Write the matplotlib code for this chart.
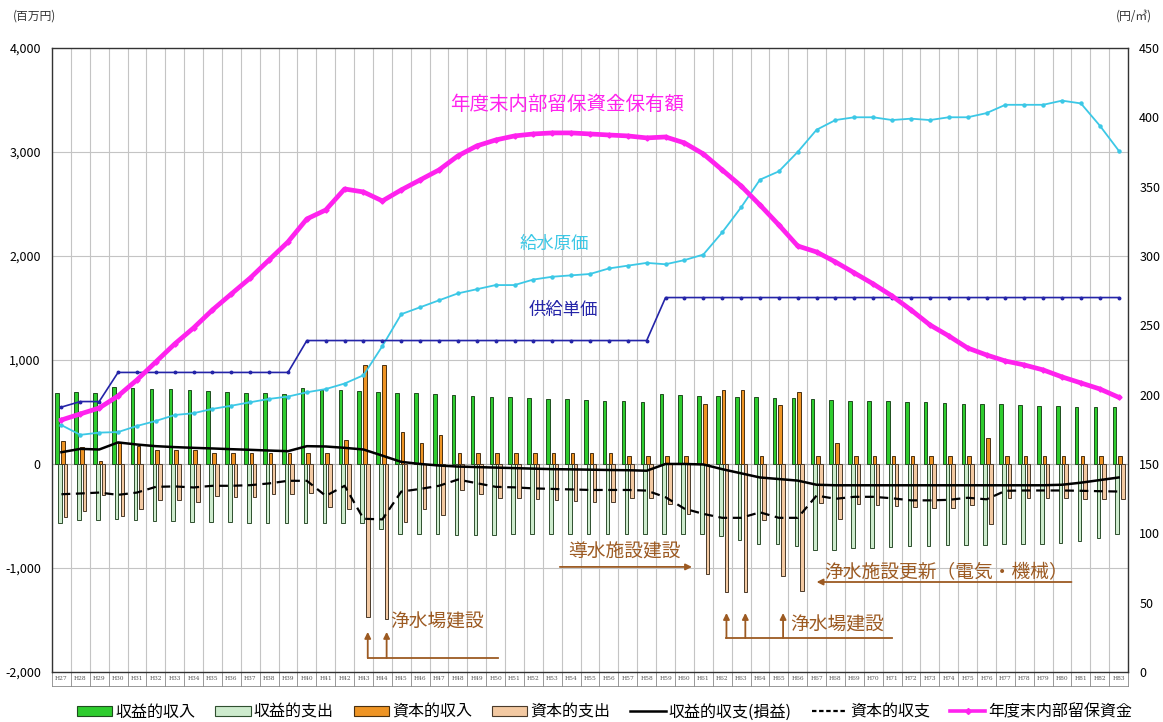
import numpy as np
import matplotlib
matplotlib.use("Agg")
import matplotlib.pyplot as plt
from matplotlib.patches import Patch
from matplotlib.lines import Line2D
import matplotlib.transforms as mtransforms

plt.rcParams['font.family'] = ['Noto Sans CJK JP', 'DejaVu Sans']

years = ["H%d" % y for y in range(27, 84)]

# 収益的収入 / 収益的支出 (百万円)
rev_in = [678, 688, 682, 740, 727, 724, 717, 707, 700, 694, 685, 678, 672, 727, 714, 707, 700, 694, 685,
          678, 672, 662, 656, 646, 640, 630, 623, 620, 617, 610, 604, 598, 669, 662, 656, 649, 646, 640,
          636, 630, 623, 617, 610, 604, 604, 598, 591, 588, 581, 578, 572, 569, 562, 556, 549, 546, 543]
rev_out = [-565, -539, -539, -533, -539, -549, -549, -555, -555, -562, -565, -565, -565, -565, -565, -565, -572, -623, -672,
           -672, -672, -685, -685, -685, -678, -678, -678, -672, -672, -672, -672, -672, -672, -672, -672, -694, -727, -769,
           -769, -791, -830, -824, -808, -808, -801, -791, -785, -782, -775, -775, -769, -769, -765, -759, -743, -711, -672]

# 資本的収入 / 資本的支出 (百万円)
cap_in = [216, 162, 30, 200, 168, 136, 136, 136, 107, 107, 107, 107, 107, 107, 107, 226, 953, 953, 307,
          204, 275, 105, 105, 105, 105, 105, 105, 105, 105, 105, 75, 75, 75, 75, 580, 708, 708, 75,
          567, 695, 72, 200, 72, 72, 72, 72, 72, 72, 72, 253, 72, 72, 72, 72, 72, 72, 72]
cap_out = [-507, -452, -297, -497, -433, -349, -349, -362, -307, -313, -313, -291, -291, -281, -414, -436, -1470, -1486, -560,
           -436, -491, -252, -291, -323, -329, -339, -349, -355, -362, -362, -323, -323, -381, -480, -1056, -1234, -1227, -543,
           -1082, -1221, -378, -533, -388, -394, -404, -410, -426, -426, -394, -581, -330, -323, -323, -323, -333, -339, -339]

# 収益的収支(損益), 資本的収支 (百万円)
rev_bal = [113, 145, 139, 207, 187, 171, 162, 155, 149, 142, 136, 129, 123, 171, 168, 155, 139, 80, 20,
           0, -15, -25, -30, -35, -40, -45, -50, -52, -55, -58, -60, -65, 0, 0, -5, -50, -90, -130,
           -145, -160, -200, -205, -205, -205, -205, -205, -205, -205, -205, -205, -205, -205, -205, -200, -180, -155, -130]
cap_bal = [-291, -284, -275, -297, -275, -220, -216, -226, -210, -210, -204, -187, -162, -162, -307, -210, -527, -533, -266,
           -240, -210, -150, -185, -220, -225, -235, -240, -245, -250, -250, -250, -256, -320, -430, -480, -518, -518, -465,
           -518, -518, -304, -335, -316, -316, -330, -350, -350, -345, -325, -340, -258, -255, -255, -255, -258, -262, -265]

# 年度末内部留保資金 (百万円)
reserve = [423, 481, 538, 654, 808, 981, 1154, 1308, 1481, 1635, 1788, 1962, 2135, 2356, 2442, 2644, 2615, 2529, 2635,
           2731, 2827, 2962, 3058, 3115, 3154, 3173, 3183, 3183, 3173, 3163, 3154, 3135, 3144, 3087, 2981, 2827, 2673, 2490,
           2298, 2096, 2038, 1942, 1837, 1731, 1615, 1481, 1337, 1231, 1115, 1048, 990, 952, 904, 837, 779, 721, 641]

# 給水原価 / 供給単価 (円/㎥)
cost = [178, 171, 172.6, 173, 177.4, 181, 185.3, 186.6, 189.7, 192, 194.5, 196.9, 198.6, 201.7, 204, 208, 214, 235, 258,
        263, 268, 273, 276, 279, 279, 283, 285, 286, 287, 291, 293, 295, 294, 297, 301, 317, 335, 355,
        361, 375, 391, 398, 400, 400, 398, 399, 398, 400, 400, 403, 409, 409, 409, 412, 410, 394, 376]
price = [191, 195, 195] + [216] * 10 + [239] * 19 + [270] * 25

c_rin = '#2ecc2e'
c_rout = '#cdebcd'
c_cin = '#ee9424'
c_cout = '#f3c9a2'
c_text = '#9c5a22'

x = np.arange(len(years))
w = 0.19

fig = plt.figure(figsize=(11.63, 7.22), dpi=100)
ax = fig.add_axes([0.0447, 0.0693, 0.9253, 0.8643])

ax.set_xlim(-0.5, len(years) - 0.5)
ax.set_ylim(-2000, 4000)

# grid
for b in np.arange(-0.5, len(years), 1.0):
    ax.axvline(b, color='#c4c4c4', lw=0.8, zorder=0)
for t in range(-1000, 4000, 1000):
    ax.axhline(t, color='#c4c4c4', lw=0.8, zorder=0)
ax.axhline(0, color='#b0b0b0', lw=0.8, zorder=0)

ax.bar(x - 0.225, rev_in, w, color=c_rin, edgecolor='#1f4d1f', lw=0.7, zorder=2)
ax.bar(x - 0.075, rev_out, w, color=c_rout, edgecolor='#2f4f2f', lw=0.7, zorder=2)
ax.bar(x + 0.075, cap_in, w, color=c_cin, edgecolor='#4a3010', lw=0.7, zorder=2)
ax.bar(x + 0.225, cap_out, w, color=c_cout, edgecolor='#4a3a2a', lw=0.7, zorder=2)

ax.plot(x, rev_bal, color='black', lw=1.8, zorder=4)
ax.plot(x, cap_bal, color='black', lw=1.6, ls=(0, (4, 2.5)), zorder=4)

ax.set_yticks(range(-2000, 4001, 1000))
ax.set_yticklabels(["{:,}".format(v) for v in range(-2000, 4001, 1000)], fontsize=9)
ax.tick_params(axis='y', length=0, pad=8)
ax.set_xticks([])
for s in ax.spines.values():
    s.set_color('#333333')
    s.set_linewidth(1.0)

# year row below the plot
trans = mtransforms.blended_transform_factory(ax.transData, ax.transAxes)
row_h = 0.0225
for b in np.arange(-0.5, len(years), 1.0):
    ax.plot([b, b], [0, -row_h], transform=trans, color='#888888', lw=0.6, clip_on=False)
ax.plot([-0.5, len(years) - 0.5], [-row_h, -row_h], transform=trans, color='#888888', lw=0.6, clip_on=False)
for xi, yl in zip(x, years):
    ax.text(xi, -row_h / 2, yl, transform=trans, fontsize=4.2, ha='center', va='center',
            color='#555555', family='DejaVu Serif')

# right axis: 円/㎥
ax2 = ax.twinx()
ax2.set_ylim(0, 450)
ax2.set_yticks(range(0, 451, 50))
ax2.set_yticklabels([str(v) for v in range(0, 451, 50)], fontsize=9)
ax2.tick_params(axis='y', length=0, pad=8)
ax2.plot(x, cost, color='#3cc8e6', lw=1.3, marker='o', ms=2.2, zorder=5)
ax2.plot(x, price, color='#2424a8', lw=1.2, marker='o', ms=1.8, zorder=5)
for s in ax2.spines.values():
    s.set_visible(False)

# reserve fund on top of everything
ax3 = ax.twinx()
ax3.set_ylim(ax.get_ylim())
ax3.axis('off')
ax3.plot(x, reserve, color='#ff22ee', lw=3.4, marker='D', ms=2.6, zorder=6)

# series captions
ax3.text(26.8, 3452, "年度末内部留保資金保有額", color='#ff22ee', fontsize=14, ha='center', va='center')
ax3.text(26.1, 2115, "給水原価", color='#3cc8e6', fontsize=12.5, ha='center', va='center')
ax3.text(26.6, 1481, "供給単価", color='#2424a8', fontsize=12.5, ha='center', va='center')

# construction notes
arrow = dict(arrowstyle='-|>', color=c_text, lw=1.3, mutation_scale=9, shrinkA=0, shrinkB=0)
ax3.text(29.8, -846, "導水施設建設", color=c_text, fontsize=13.5, ha='center', va='center')
ax3.annotate("", xy=(33.4, -990), xytext=(26.4, -990), arrowprops=arrow)
ax3.text(46.85, -1048, "浄水施設更新（電気・機械）", color=c_text, fontsize=13.5, ha='center', va='center')
ax3.annotate("", xy=(40.0, -1135), xytext=(53.5, -1135), arrowprops=arrow)

ax3.plot([16.225, 23.1], [-1865, -1865], color=c_text, lw=1.3)
for xa in (16.225, 17.225):
    ax3.annotate("", xy=(xa, -1615), xytext=(xa, -1865), arrowprops=arrow)
ax3.text(17.4, -1519, "浄水場建設", color=c_text, fontsize=13.5, ha='left', va='center')

ax3.plot([35.225, 44.0], [-1673, -1673], color=c_text, lw=1.3)
for xa in (35.225, 36.225, 38.225):
    ax3.annotate("", xy=(xa, -1433), xytext=(xa, -1673), arrowprops=arrow)
ax3.text(38.6, -1548, "浄水場建設", color=c_text, fontsize=13.5, ha='left', va='center')

# unit labels
fig.text(0.030, 0.978, "(百万円)", fontsize=8.5, ha='center', va='center', color='#333333')
fig.text(0.975, 0.978, "(円/㎥)", fontsize=8.5, ha='center', va='center', color='#333333')

handles = [
    Patch(facecolor=c_rin, edgecolor='#1f4d1f', lw=0.8),
    Patch(facecolor=c_rout, edgecolor='#2f4f2f', lw=0.8),
    Patch(facecolor=c_cin, edgecolor='#4a3010', lw=0.8),
    Patch(facecolor=c_cout, edgecolor='#4a3a2a', lw=0.8),
    Line2D([], [], color='black', lw=1.8),
    Line2D([], [], color='black', lw=1.6, ls=(0, (2, 1.2))),
    Line2D([], [], color='#ff22ee', lw=2.6, marker='D', ms=3),
]
labels = ["収益的収入", "収益的支出", "資本的収入", "資本的支出", "収益的収支(損益)", "資本的収支", "年度末内部留保資金"]
fig.legend(handles, labels, loc='lower center', bbox_to_anchor=(0.52, -0.018), ncol=7, frameon=False,
           fontsize=11.5, handlelength=2.2, handleheight=0.55, handletextpad=0.2, columnspacing=1.25)

fig.savefig("out.png", dpi=100)
